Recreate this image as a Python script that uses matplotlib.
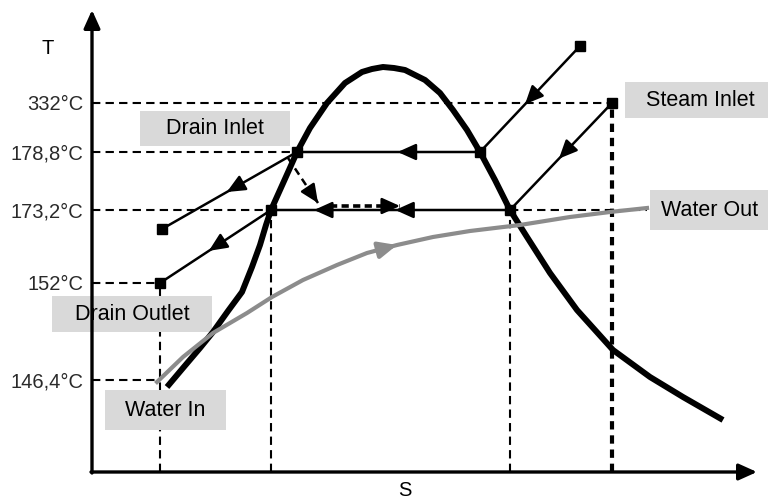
import matplotlib
matplotlib.use('Agg')
import matplotlib.pyplot as plt
from matplotlib.patches import Rectangle
import numpy as np

plt.rcParams['font.family'] = ['Liberation Sans', 'DejaVu Sans']

# ---- schematic data (s = entropy position, t = temperature position) ----
temp_labels = ['332°C', '178,8°C', '173,2°C', '152°C', '146,4°C']
temp_pos = [369, 320, 262, 189, 92]

dome_s = [75, 91, 108, 121, 136, 150, 160, 168, 174, 179, 188, 197, 205, 218, 235,
          253, 270, 280, 291, 302, 313, 333, 348, 361, 375, 388, 403, 418, 435, 458,
          485, 521, 558, 591, 631]
dome_t = [85, 104, 124, 140, 161, 180, 205, 227, 247, 262, 282, 302, 320, 344, 369,
          389, 400, 403, 405, 404, 402, 392, 379, 362, 342, 320, 292, 262, 235, 199,
          162, 122, 95, 75, 52]

water_s = [65, 91, 121, 155, 180, 211, 245, 275, 305, 341, 378, 428, 478, 518, 555]
water_t = [90, 115, 139, 159, 175, 192, 207, 219, 227, 235, 241, 247, 255, 260, 264]

# path 1: upper steam -> condensing at 178,8 -> drain
path1_s = [488, 388, 205, 70]
path1_t = [426, 320, 320, 243]
# path 2: steam inlet -> condensing at 173,2 -> drain outlet
path2_s = [520, 418, 179, 68]
path2_t = [369, 262, 262, 189]
# drain inlet (dashed) flow
drain1_s = [196, 226]
drain1_t = [314, 269]
drain2_s = [238, 308]
drain2_t = [266, 266]

# reference dashed lines
hline_t = [369, 320, 262, 189, 92]
hline_end = [520, 205, 179, 68, 66]
vline_s = [68, 179, 418]
vline_top = [189, 262, 262]

labels = ['Drain Inlet', 'Steam Inlet', 'Water Out', 'Drain Outlet', 'Water In']

# ---- figure ----
fig = plt.figure(figsize=(7.68, 4.99), dpi=100)
ax = fig.add_axes([92 / 768, 27 / 499, 665 / 768, 462 / 499])
ax.set_xlim(0, 665)
ax.set_ylim(0, 462)
for sp in ax.spines.values():
    sp.set_visible(False)
ax.set_xticks([])
ax.set_yticks(temp_pos, temp_labels)
ax.tick_params(axis='y', length=0, pad=6, labelsize=14.5, labelcolor='#2a2a2a')

# axes with arrows
ax.annotate('', xy=(0, 462), xytext=(0, -1), annotation_clip=False,
            arrowprops=dict(arrowstyle='-|>,head_length=1.0,head_width=0.45', lw=2.4,
                            color='black', shrinkA=0, shrinkB=0, mutation_scale=11))
ax.annotate('', xy=(665, 0), xytext=(-1, 0), annotation_clip=False,
            arrowprops=dict(arrowstyle='-|>,head_length=1.0,head_width=0.45', lw=2.4,
                            color='black', shrinkA=0, shrinkB=0, mutation_scale=11))
ax.text(-44, 424, 'T', fontsize=14.5, ha='center', va='center')
ax.text(313, -18, 'S', fontsize=14.5, ha='center', va='center', clip_on=False)

# dashed reference lines
for t, e in zip(hline_t, hline_end):
    ax.plot([0, e], [t, t], ls=(0, (4, 2.5)), color='black', lw=1.5, zorder=1)
ax.plot([path2_s[1], water_s[-1]], [path2_t[1], path2_t[1]], ls=(0, (4, 2.5)),
        color='black', lw=1.5, zorder=1)
for s, top in zip(vline_s, vline_top):
    ax.plot([s, s], [0, top], ls=(0, (4, 2.5)), color='black', lw=1.5, zorder=1)
ax.plot([path2_s[0], path2_s[0]], [0, path2_t[0]], ls=(0, (2, 1.4)), color='black',
        lw=3.0, zorder=1)

# label boxes
box_xy = [(48, 326), (533, 354), (558, 242), (-40, 140), (13, 42)]
box_wh = [(150, 35), (150, 36), (120, 40), (160, 36), (121, 40)]
for lab, (bx, by), (bw, bh) in zip(labels, box_xy, box_wh):
    ax.add_patch(Rectangle((bx, by), bw, bh, facecolor='#d9d9d9', edgecolor='none',
                           zorder=2, clip_on=False))
    ax.text(bx + bw / 2, by + bh / 2, lab, fontsize=15.5, ha='center', va='center',
            color='black', zorder=6, clip_on=False)

# saturation dome
ax.plot(dome_s, dome_t, color='black', lw=4.3, solid_capstyle='butt',
        solid_joinstyle='round', zorder=3)
# water curve
ax.plot(water_s, water_t, color='#8c8c8c', lw=3.0, solid_joinstyle='round', zorder=4)

# paths
for ps, pt in [(path1_s, path1_t), (path2_s, path2_t)]:
    ax.plot(ps, pt, color='black', lw=1.8, zorder=5)
    ax.plot([ps[0], ps[-1]], [pt[0], pt[-1]], 's', color='black', ms=6.5, zorder=5)
    ax.plot(ps[1:3], pt[1:3], 's', color='black', ms=7, zorder=5)
ax.plot(drain1_s, drain1_t, ls=(0, (3, 2)), color='black', lw=1.8, zorder=5)
ax.plot(drain2_s, drain2_t, ls=(0, (2, 1.2)), color='black', lw=2.6, zorder=5)


def arrow_on(xs, ys, seg, frac, color='black', lw=1.8):
    x0, y0, x1, y1 = xs[seg], ys[seg], xs[seg + 1], ys[seg + 1]
    tx, ty = x0 + (x1 - x0) * frac, y0 + (y1 - y0) * frac
    d = np.hypot(x1 - x0, y1 - y0)
    ux, uy = (x1 - x0) / d, (y1 - y0) / d
    ax.annotate('', xy=(tx, ty), xytext=(tx - ux * 12, ty - uy * 12),
                arrowprops=dict(arrowstyle='-|>,head_length=1.0,head_width=0.45',
                                lw=lw, color=color, shrinkA=0, shrinkB=0,
                                mutation_scale=11), zorder=6)


arrow_on(path1_s, path1_t, 0, 0.55)
arrow_on(path1_s, path1_t, 1, 0.45)
arrow_on(path1_s, path1_t, 2, 0.52)
arrow_on(path2_s, path2_t, 0, 0.52)
arrow_on(path2_s, path2_t, 1, 0.48)
arrow_on(path2_s, path2_t, 1, 0.82)
arrow_on(path2_s, path2_t, 2, 0.56)
arrow_on(water_s, water_t, 7, 1.0, color='#8c8c8c', lw=3.0)
arrow_on(drain1_s, drain1_t, 0, 1.0)
arrow_on(drain2_s, drain2_t, 0, 1.0)

fig.savefig('out.png', dpi=100)
